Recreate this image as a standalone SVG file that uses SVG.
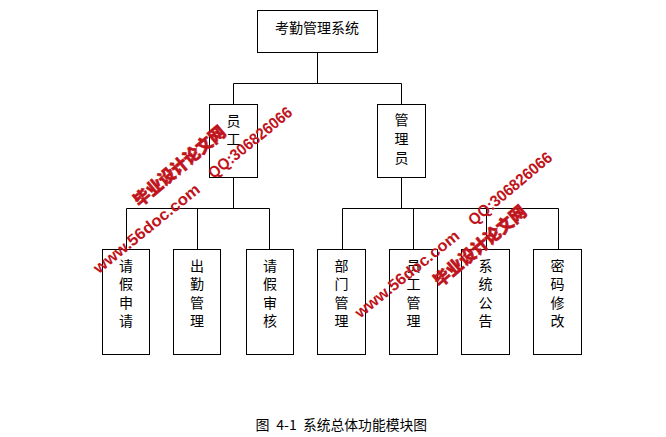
<svg xmlns="http://www.w3.org/2000/svg" width="666" height="437" viewBox="0 0 666 437">
<style>
.box{fill:#fff;stroke:#000;stroke-width:1}
.ln{fill:none;stroke:#000;stroke-width:1}
.t{font-family:"Noto Sans CJK SC","Liberation Sans",sans-serif;font-size:14px;fill:#000;text-anchor:middle;dominant-baseline:central}
.cap{font-family:"Noto Sans CJK SC","Liberation Sans",sans-serif;font-size:14px;fill:#000;text-anchor:middle;dominant-baseline:central}
.wm{font-family:"Liberation Sans","Noto Sans CJK SC",sans-serif;font-weight:bold;font-size:16px;fill:#c0141c;text-anchor:middle;dominant-baseline:central}
.wmc{font-family:"Noto Sans CJK SC",sans-serif;font-weight:900;font-size:17px;fill:#c0141c;stroke:#c0141c;stroke-width:0.6;text-anchor:middle;dominant-baseline:central}
</style>
<rect width="666" height="437" fill="#fff"/>
<g id="connectors">
<path class="ln" d="M317.5 52.5V83.5M233.5 83.5H401.5M233.5 83.5V104.5M401.5 83.5V104.5"/>
<path class="ln" d="M233.5 177.5V208.5M126.5 208.5H269.5M126.5 208.5V249.5M197.5 208.5V249.5M269.5 208.5V249.5"/>
<path class="ln" d="M401.5 177.5V208.5M342.5 208.5H558.5M342.5 208.5V249.5M413.5 208.5V249.5M486.5 208.5V249.5M558.5 208.5V249.5"/>
</g>
<g id="root"><rect class="box" x="257.5" y="10.5" width="120" height="42"/><text class="t" x="317" y="27">考勤管理系统</text></g>
<g id="staff"><rect class="box" x="209.5" y="104.5" width="48" height="73"/><text class="t" x="233.5" y="120">员</text><text class="t" x="233.5" y="138">工</text></g>
<g id="admin"><rect class="box" x="377.5" y="104.5" width="48" height="73"/><text class="t" x="401.5" y="119">管</text><text class="t" x="401.5" y="138">理</text><text class="t" x="401.5" y="157">员</text></g>
<g id="leave-apply"><rect class="box" x="102.5" y="249.5" width="47" height="105"/><text class="t" x="126" y="264.5">请</text><text class="t" x="126" y="283">假</text><text class="t" x="126" y="301.5">申</text><text class="t" x="126" y="320">请</text></g>
<g id="attendance"><rect class="box" x="173.5" y="249.5" width="47" height="105"/><text class="t" x="197" y="264.5">出</text><text class="t" x="197" y="283">勤</text><text class="t" x="197" y="301.5">管</text><text class="t" x="197" y="320">理</text></g>
<g id="leave-review"><rect class="box" x="246.5" y="249.5" width="47" height="105"/><text class="t" x="270" y="264.5">请</text><text class="t" x="270" y="283">假</text><text class="t" x="270" y="301.5">审</text><text class="t" x="270" y="320">核</text></g>
<g id="dept"><rect class="box" x="317.5" y="249.5" width="48" height="105"/><text class="t" x="341.5" y="264.5">部</text><text class="t" x="341.5" y="283">门</text><text class="t" x="341.5" y="301.5">管</text><text class="t" x="341.5" y="320">理</text></g>
<g id="staff-mgmt"><rect class="box" x="389.5" y="249.5" width="48" height="105"/><text class="t" x="413.5" y="264.5">员</text><text class="t" x="413.5" y="283">工</text><text class="t" x="413.5" y="301.5">管</text><text class="t" x="413.5" y="320">理</text></g>
<g id="notice"><rect class="box" x="461.5" y="249.5" width="48" height="105"/><text class="t" x="485.5" y="264.5">系</text><text class="t" x="485.5" y="283">统</text><text class="t" x="485.5" y="301.5">公</text><text class="t" x="485.5" y="320">告</text></g>
<g id="password"><rect class="box" x="533.5" y="249.5" width="48" height="105"/><text class="t" x="557.5" y="264.5">密</text><text class="t" x="557.5" y="283">码</text><text class="t" x="557.5" y="301.5">修</text><text class="t" x="557.5" y="320">改</text></g>
<g id="caption">
<text class="cap" x="262.5" y="424">图</text>
<text class="cap" x="286.5" y="424">4-1</text>
<text class="cap" x="365" y="424" textLength="124" lengthAdjust="spacingAndGlyphs">系统总体功能模块图</text>
</g>
<g id="watermark">
<text class="wmc" transform="translate(178.5 165) rotate(-40)" textLength="114" lengthAdjust="spacingAndGlyphs">毕业设计论文网</text>
<text class="wm" transform="translate(250 142.5) rotate(-39)" textLength="103" lengthAdjust="spacingAndGlyphs">QQ:306826066</text>
<text class="wm" transform="translate(146.5 228.5) rotate(-39)" textLength="132" lengthAdjust="spacingAndGlyphs">www.56doc.com</text>
<text class="wmc" transform="translate(479 245) rotate(-40)" textLength="115" lengthAdjust="spacingAndGlyphs">毕业设计论文网</text>
<text class="wm" transform="translate(510 188.5) rotate(-40)" textLength="104" lengthAdjust="spacingAndGlyphs">QQ:306826066</text>
<text class="wm" transform="translate(407 274) rotate(-39)" textLength="129" lengthAdjust="spacingAndGlyphs">www.56doc.com</text>
</g>
</svg>
